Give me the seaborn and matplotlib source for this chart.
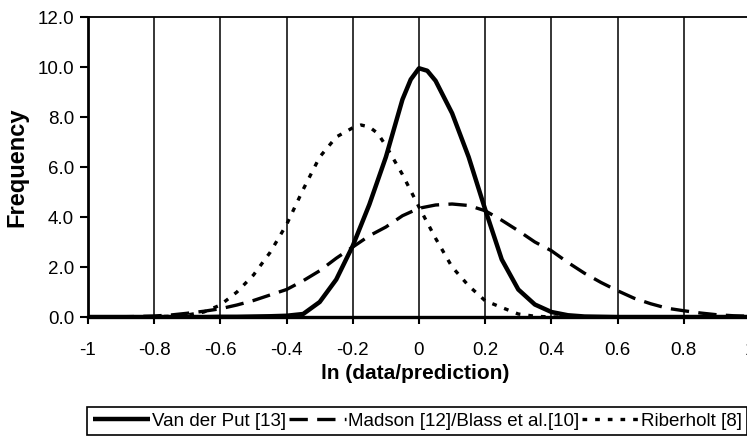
import matplotlib
matplotlib.use("Agg")
import matplotlib.pyplot as plt
import seaborn as sns
import pandas as pd

# Fitted frequency curves of ln(data/prediction) for three strength models
vdp_x = [-1.0, -0.95, -0.9, -0.85, -0.8, -0.75, -0.7, -0.65, -0.6, -0.55, -0.5,
         -0.45, -0.4, -0.35, -0.3, -0.25, -0.2, -0.15, -0.1, -0.05, -0.025, 0.0,
         0.025, 0.05, 0.1, 0.15, 0.2, 0.25, 0.3, 0.35, 0.4, 0.45, 0.5, 0.55, 0.6,
         0.65, 0.7, 0.75, 0.8, 0.85, 0.9, 0.95, 1.0]
vdp_y = [0.0, 0.0, 0.0, 0.0, 0.0, 0.0, 0.0, 0.0, 0.01, 0.01, 0.02,
         0.03, 0.05, 0.12, 0.6, 1.5, 2.85, 4.5, 6.4, 8.7, 9.5, 9.95,
         9.85, 9.45, 8.15, 6.4, 4.3, 2.3, 1.1, 0.5, 0.2, 0.07, 0.02, 0.01, 0.0,
         0.0, 0.0, 0.0, 0.0, 0.0, 0.0, 0.0, 0.0]

madson_x = [-1.0, -0.95, -0.9, -0.85, -0.8, -0.75, -0.7, -0.65, -0.6, -0.55, -0.5,
            -0.45, -0.4, -0.35, -0.3, -0.25, -0.2, -0.15, -0.1, -0.05, 0.0,
            0.05, 0.1, 0.15, 0.2, 0.25, 0.3, 0.35, 0.4, 0.45, 0.5,
            0.55, 0.6, 0.65, 0.7, 0.75, 0.8, 0.85, 0.9, 0.95, 1.0]
madson_y = [0.0, 0.0, 0.01, 0.02, 0.04, 0.08, 0.15, 0.23, 0.33, 0.48, 0.66,
            0.88, 1.1, 1.45, 1.85, 2.35, 2.8, 3.25, 3.6, 4.05, 4.35,
            4.48, 4.52, 4.46, 4.25, 3.87, 3.45, 3.0, 2.65, 2.18, 1.75,
            1.38, 1.05, 0.75, 0.53, 0.35, 0.25, 0.16, 0.09, 0.05, 0.03]

rib_x = [-1.0, -0.95, -0.9, -0.85, -0.8, -0.75, -0.7, -0.65, -0.6, -0.55, -0.5,
         -0.45, -0.4, -0.35, -0.3, -0.25, -0.2, -0.175, -0.15, -0.125, -0.1, -0.05,
         0.0, 0.05, 0.1, 0.15, 0.2, 0.25, 0.3, 0.35, 0.4, 0.45, 0.5, 0.6, 0.7,
         0.8, 0.9, 1.0]
rib_y = [0.0, 0.0, 0.0, 0.0, 0.01, 0.03, 0.08, 0.2, 0.48, 1.0, 1.68,
         2.58, 3.7, 5.1, 6.4, 7.2, 7.57, 7.68, 7.6, 7.35, 6.85, 5.7,
         4.4, 3.15, 2.0, 1.25, 0.65, 0.38, 0.12, 0.03, 0.0, 0.0, 0.0, 0.0, 0.0,
         0.0, 0.0, 0.0]

series_names = ["Van der Put [13]", "Madson [12]/Blass et al.[10]", "Riberholt [8]"]

x_ticks = [-1.0, -0.8, -0.6, -0.4, -0.2, 0.0, 0.2, 0.4, 0.6, 0.8, 1.0]
x_tick_labels = ["-1", "-0.8", "-0.6", "-0.4", "-0.2", "0", "0.2", "0.4", "0.6", "0.8", "1"]
y_ticks = [0, 2, 4, 6, 8, 10, 12]
y_tick_labels = ["0.0", "2.0", "4.0", "6.0", "8.0", "10.0", "12.0"]

sns.set_theme(style="white")
plt.rcParams["font.family"] = ["Liberation Sans", "DejaVu Sans"]
plt.rcParams["axes.unicode_minus"] = False
for key in ("text.color", "axes.labelcolor", "xtick.color", "ytick.color"):
    plt.rcParams[key] = "black"

fig = plt.figure(figsize=(7.47, 4.38), dpi=100)
ax = fig.add_axes([88 / 747, 121 / 438, 662 / 747, 300 / 438])

vdp = pd.DataFrame({"x": vdp_x, "y": vdp_y})
madson = pd.DataFrame({"x": madson_x, "y": madson_y})
rib = pd.DataFrame({"x": rib_x, "y": rib_y})

sns.lineplot(data=vdp, x="x", y="y", ax=ax, color="black", linewidth=3.2,
             label=series_names[0], solid_capstyle="butt", zorder=4)
sns.lineplot(data=madson, x="x", y="y", ax=ax, color="black", linewidth=2.4,
             linestyle=(0, (5.5, 2.8)), label=series_names[1], zorder=3)
sns.lineplot(data=rib, x="x", y="y", ax=ax, color="black", linewidth=2.4,
             linestyle=(0, (1.4, 2.4)), label=series_names[2], zorder=3)

ax.set_xlim(-1, 1)
ax.set_ylim(0, 12)
ax.set_xticks(x_ticks)
ax.set_xticklabels(x_tick_labels)
ax.set_yticks(y_ticks)
ax.set_yticklabels(y_tick_labels)

ax.grid(axis="x", color="black", linewidth=1.1)
ax.grid(axis="y", visible=False)
ax.set_axisbelow(True)

for side, lw in (("left", 2.0), ("bottom", 2.4), ("top", 1.3), ("right", 1.3)):
    ax.spines[side].set_visible(True)
    ax.spines[side].set_color("black")
    ax.spines[side].set_linewidth(lw)

ax.tick_params(axis="x", bottom=True, direction="out", length=5, width=1.5,
               pad=13, labelsize=13.5)
ax.tick_params(axis="y", left=True, direction="out", length=6, width=1.5,
               pad=4, labelsize=13.5)

ax.set_xlabel("ln (data/prediction)", fontsize=15, fontweight="bold", va="center")
ax.xaxis.set_label_coords(0.494, -0.187)
ax.set_ylabel("Frequency", fontsize=17, fontweight="bold", va="center")
ax.yaxis.set_label_coords(-0.107, 0.5)

leg = ax.legend(loc="upper left", bbox_to_anchor=(87 / 747, 1 - 407 / 438),
                bbox_transform=fig.transFigure, ncol=3, fontsize=13.5,
                frameon=True, fancybox=False, edgecolor="black", framealpha=1,
                handlelength=3.05, handletextpad=0.1, columnspacing=0.15,
                borderpad=0.3, borderaxespad=0)
leg.get_frame().set_linewidth(1.2)

fig.savefig("out.png", dpi=100)
